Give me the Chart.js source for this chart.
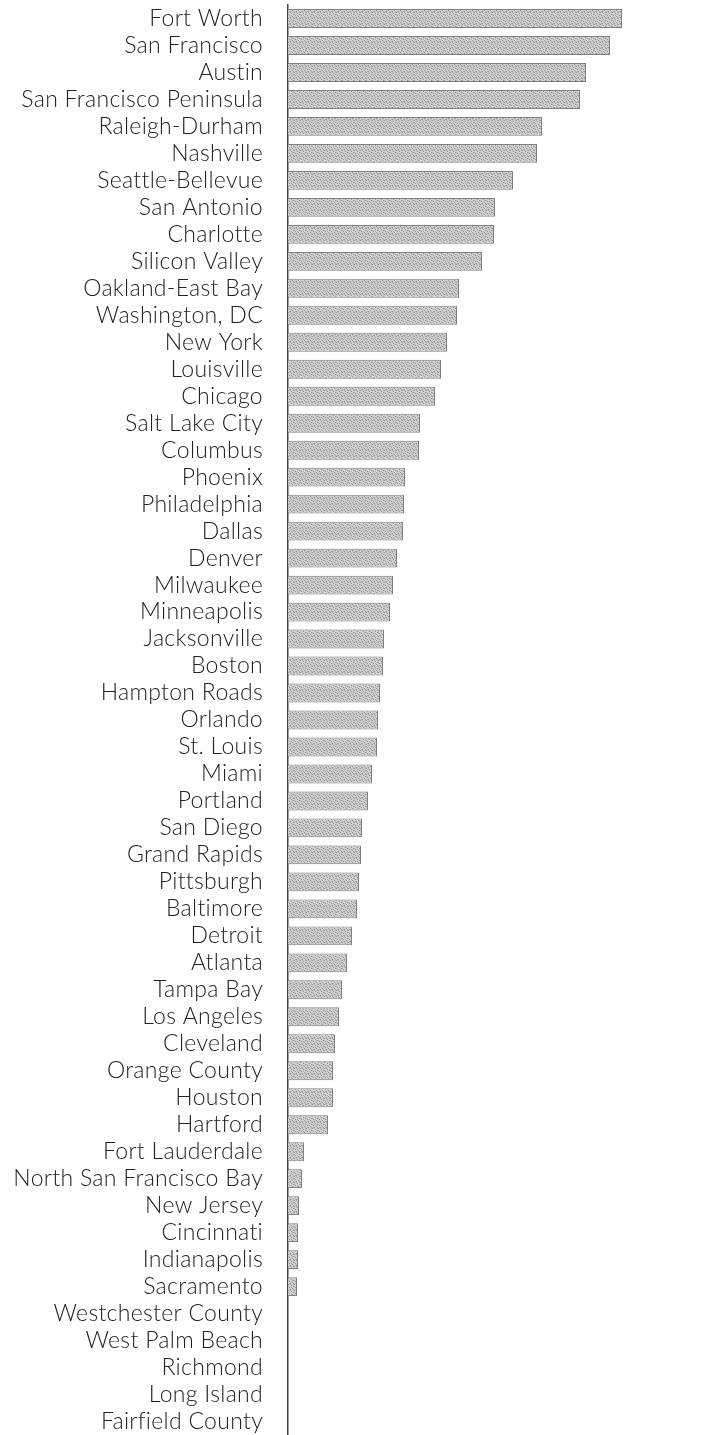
<!DOCTYPE html>
<html>
<head>
<meta charset="utf-8">
<script src="https://cdn.jsdelivr.net/npm/chart.js@4/dist/chart.umd.min.js"></script>
<style>
  html, body { margin: 0; padding: 0; background: #fff; }
  #wrap { width: 701px; height: 1435px; position: relative; }
</style>
</head>
<body>
<div id="wrap"><canvas id="metroChart"></canvas></div>
<script>
// Metro areas, longest bar first
const metros = [
  'Fort Worth', 'San Francisco', 'Austin', 'San Francisco Peninsula', 'Raleigh-Durham',
  'Nashville', 'Seattle-Bellevue', 'San Antonio', 'Charlotte', 'Silicon Valley',
  'Oakland-East Bay', 'Washington, DC', 'New York', 'Louisville', 'Chicago',
  'Salt Lake City', 'Columbus', 'Phoenix', 'Philadelphia', 'Dallas',
  'Denver', 'Milwaukee', 'Minneapolis', 'Jacksonville', 'Boston',
  'Hampton Roads', 'Orlando', 'St. Louis', 'Miami', 'Portland',
  'San Diego', 'Grand Rapids', 'Pittsburgh', 'Baltimore', 'Detroit',
  'Atlanta', 'Tampa Bay', 'Los Angeles', 'Cleveland', 'Orange County',
  'Houston', 'Hartford', 'Fort Lauderdale', 'North San Francisco Bay', 'New Jersey',
  'Cincinnati', 'Indianapolis', 'Sacramento', 'Westchester County', 'West Palm Beach',
  'Richmond', 'Long Island', 'Fairfield County'
];

const values = [
  334, 322, 298, 292, 254,
  249, 225, 207, 206, 194,
  171, 169, 159, 153, 147,
  132, 131, 117, 116, 115,
  109, 105, 102, 96, 95,
  92, 90, 89, 84, 80,
  74, 73, 71, 69, 64,
  59, 54, 51, 47, 45,
  45, 40, 16, 14, 11,
  10, 10, 9, 0, 0,
  0, 0, 0
];

const xMax = 413;

// grainy grey fill for the bars: scattered dark and mid dots on light grey
function stipple() {
  const c = document.createElement('canvas');
  c.width = c.height = 6;
  const g = c.getContext('2d');
  g.fillStyle = '#d2d2d2';
  g.fillRect(0, 0, 6, 6);
  g.fillStyle = '#8e8e8e';
  [[0, 0], [3, 1], [5, 2], [1, 3], [4, 4], [2, 5]].forEach(([x, y]) => g.fillRect(x, y, 1, 1));
  g.fillStyle = '#acacac';
  [[2, 0], [5, 0], [0, 2], [3, 3], [1, 5], [5, 5]].forEach(([x, y]) => g.fillRect(x, y, 1, 1));
  return g.createPattern(c, 'repeat');
}

// a touch of tracking also keeps "tt"/"ti" from turning into ligatures
const tracking = {
  id: 'tracking',
  beforeDraw: chart => { chart.ctx.letterSpacing = '0.3px'; }
};

new Chart(document.getElementById('metroChart').getContext('2d'), {
  type: 'bar',
  data: {
    labels: metros,
    datasets: [{
      data: values,
      backgroundColor: stipple(),
      borderColor: '#808080',
      borderWidth: 1,
      borderSkipped: 'start',
      categoryPercentage: 1,
      barPercentage: 0.7
    }]
  },
  plugins: [tracking],
  options: {
    indexAxis: 'y',
    responsive: true,
    maintainAspectRatio: false,
    animation: false,
    layout: { padding: { top: 5, right: 0, bottom: 0, left: 0 } },
    plugins: {
      legend: { display: false },
      tooltip: { enabled: false }
    },
    scales: {
      x: {
        display: false,
        min: 0,
        max: xMax
      },
      y: {
        afterFit: scale => {
          scale.width = 288;
          scale.paddingTop = 0;
          scale.paddingBottom = 0;
        },
        grid: { display: false, drawTicks: false },
        border: { display: true, color: '#444', width: 1.5 },
        ticks: {
          padding: 25,
          color: '#222',
          font: { family: 'Lato', size: 23, weight: 300 },
          autoSkip: false
        }
      }
    }
  }
});
</script>
</body>
</html>
